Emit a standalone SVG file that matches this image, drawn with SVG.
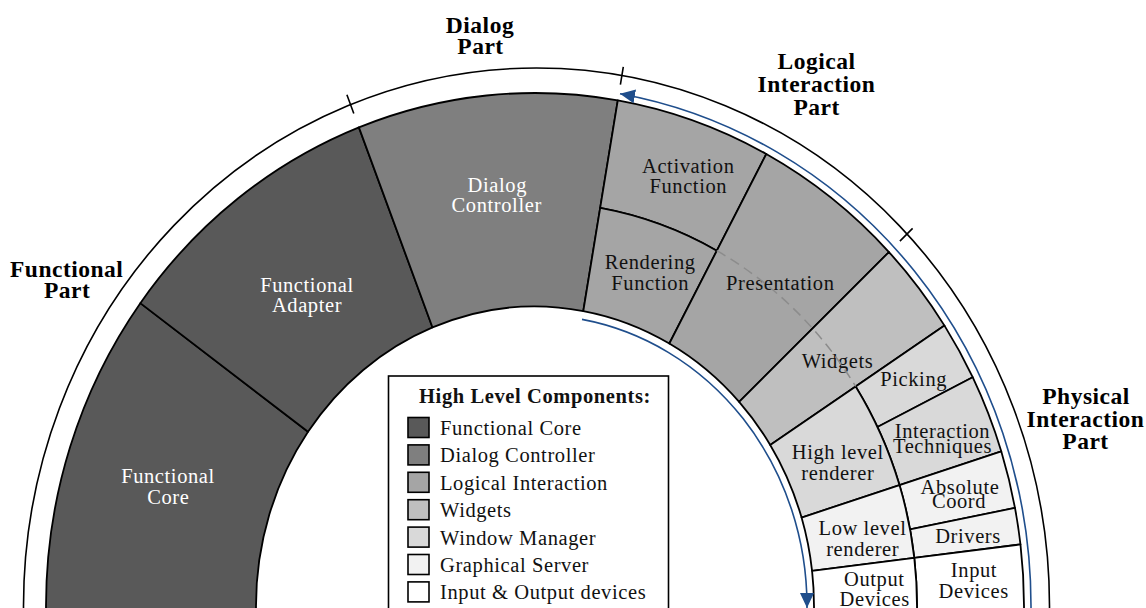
<svg xmlns="http://www.w3.org/2000/svg" width="1146" height="608" viewBox="0 0 1146 608">
<defs>
<marker id="ah" markerUnits="userSpaceOnUse" markerWidth="16" markerHeight="14" refX="15" refY="7" orient="auto"><path d="M0,0 L15,7 L0,14 Z" fill="#1f4e8c"/></marker>
</defs>
<style>
.seg{stroke:#000;stroke-width:1.8;stroke-linejoin:round}
.t{font-family:"Liberation Serif","Times New Roman",serif;font-size:20.5px;letter-spacing:0.6px;text-anchor:middle;fill:#111}
.w{fill:#fff}
.p{font-family:"Liberation Serif","Times New Roman",serif;font-size:23.5px;font-weight:bold;letter-spacing:0.5px;text-anchor:middle;fill:#000}
.lg{font-family:"Liberation Serif","Times New Roman",serif;font-size:20.5px;letter-spacing:0.6px;fill:#111}
.sw{stroke:#000;stroke-width:1.6}
.blue{fill:none;stroke:#1f4e8c;stroke-width:1.6}
.frame{fill:none;stroke:#000;stroke-width:1.6}
</style>
<rect width="1146" height="608" fill="#fff"/>

<g id="frame">
<path class="frame" d="M23.5,615 L23.5,606 A513 538 0 0 1 1049.5,606 L1049.5,615"/>
<path class="frame" d="M353.8,113.5 L346.9,94.7 M620.4,84.6 L623.3,66.9 M899.9,241.1 L912.6,228.4"/>
</g>

<g id="functional-core">
<path class="seg" fill="#595959" d="M46,615 L46,606 A489 513 0 0 1 140.31,303.14 L308.02,431.83 A279 299.5 0 0 0 256,606 L256,615 Z"/>
<text class="t w" x="168" y="483.3">Functional</text>
<text class="t w" x="168.3" y="504">Core</text>
</g>
<g id="functional-adapter">
<path class="seg" fill="#595959" d="M140.31,303.14 A489 513 0 0 1 358.91,127.41 L432.51,327.44 A279 299.5 0 0 0 308.02,431.83 Z"/>
<text class="t w" x="307" y="291.7">Functional</text>
<text class="t w" x="307" y="311.7">Adapter</text>
</g>
<g id="dialog-controller">
<path class="seg" fill="#7f7f7f" d="M358.91,127.41 A489 513 0 0 1 617.79,100.40 L583.30,311.02 A279 299.5 0 0 0 432.51,327.44 Z"/>
<text class="t w" x="497.3" y="192.3">Dialog</text>
<text class="t w" x="496.7" y="212.3">Controller</text>
</g>
<g id="activation-function">
<path class="seg" fill="#a5a5a5" d="M617.79,100.40 A489 513 0 0 1 766.29,154.01 L716.82,250.70 A382 404 0 0 0 600.19,207.92 Z"/>
<text class="t" x="688.3" y="172.7">Activation</text>
<text class="t" x="688.3" y="193.3">Function</text>
</g>
<g id="rendering-function">
<path class="seg" fill="#a5a5a5" d="M600.19,207.92 A382 404 0 0 1 716.82,250.70 L669.33,343.50 A279 299.5 0 0 0 583.30,311.02 Z"/>
<text class="t" x="650.2" y="269.3">Rendering</text>
<text class="t" x="650.2" y="290">Function</text>
</g>
<g id="presentation">
<path class="seg" fill="#a5a5a5" d="M766.29,154.01 A489 513 0 0 1 888.96,252.04 L739.15,401.85 A279 299.5 0 0 0 669.33,343.50 Z"/>
<text class="t" x="780.3" y="290">Presentation</text>
</g>
<g id="widgets">
<path class="seg" fill="#bfbfbf" d="M888.96,252.04 A489 513 0 0 1 944.49,325.61 L770.22,444.94 A279 299.5 0 0 0 739.15,401.85 Z"/>
<text class="t" x="837.5" y="368.3">Widgets</text>
</g>
<g id="picking">
<path class="seg" fill="#d9d9d9" d="M944.49,325.61 A489 513 0 0 1 972.67,377.19 L877.45,426.97 A382 404 0 0 0 855.66,386.43 Z"/>
<text class="t" x="913.7" y="386">Picking</text>
</g>
<g id="interaction-techniques">
<path class="seg" fill="#d9d9d9" d="M972.67,377.19 A489 513 0 0 1 1001.25,451.35 L899.49,485.10 A382 404 0 0 0 877.45,426.97 Z"/>
<text class="t" x="942.5" y="438.3">Interaction</text>
<text class="t" x="942.5" y="452.7">Techniques</text>
</g>
<g id="high-level-renderer">
<path class="seg" fill="#d9d9d9" d="M855.66,386.43 A382 404 0 0 1 899.49,485.10 L801.57,517.58 A279 299.5 0 0 0 770.22,444.94 Z"/>
<text class="t" x="837.8" y="459.3">High level</text>
<text class="t" x="837.8" y="480">renderer</text>
</g>
<g id="absolute-coord">
<path class="seg" fill="#f2f2f2" d="M1001.25,451.35 A489 513 0 0 1 1014.98,507.91 L910.06,529.35 A382 404 0 0 0 899.49,485.10 Z"/>
<text class="t" x="960" y="494">Absolute</text>
<text class="t" x="959" y="508.3">Coord</text>
</g>
<g id="drivers">
<path class="seg" fill="#f2f2f2" d="M1014.98,507.91 A489 513 0 0 1 1020.46,544.42 L914.28,557.89 A382 404 0 0 0 910.06,529.35 Z"/>
<text class="t" x="968" y="542.7">Drivers</text>
</g>
<g id="low-level-renderer">
<path class="seg" fill="#f2f2f2" d="M899.49,485.10 A382 404 0 0 1 914.28,557.89 L812.07,570.85 A279 299.5 0 0 0 801.57,517.58 Z"/>
<text class="t" x="862.5" y="535">Low level</text>
<text class="t" x="862.7" y="556">renderer</text>
</g>
<g id="input-devices">
<path class="seg" fill="#fff" d="M1020.46,544.42 A489 513 0 0 1 1024,606 L1024,615 L917,615 L917,606 A382 404 0 0 0 914.28,557.89 Z"/>
<text class="t" x="974" y="577.3">Input</text>
<text class="t" x="973.7" y="597.7">Devices</text>
</g>
<g id="output-devices">
<path class="seg" fill="#fff" d="M914.28,557.89 A382 404 0 0 1 917,606 L917,615 L814,615 L814,606 A279 299.5 0 0 0 812.07,570.85 Z"/>
<text class="t" x="874.3" y="586">Output</text>
<text class="t" x="874.7" y="606">Devices</text>
</g>

<g id="connectors">
<path d="M716.82,250.70 A382 404 0 0 1 855.66,386.43" fill="none" stroke="#8c8c8c" stroke-width="1.5" stroke-dasharray="10 6"/>
<path class="blue" marker-end="url(#ah)" d="M1031,615 L1031,606 A496 520 0 0 0 620,93.7"/>
<path class="blue" marker-end="url(#ah)" d="M582,319.4 A272 291 0 0 1 807,606 L807,608"/>
</g>

<g id="part-labels">
<text class="p" x="480" y="33.3">Dialog</text>
<text class="p" x="480.5" y="54.3">Part</text>
<text class="p" x="66.7" y="276.7">Functional</text>
<text class="p" x="67.2" y="298.3">Part</text>
<text class="p" x="816.5" y="69">Logical</text>
<text class="p" x="816.5" y="91.7">Interaction</text>
<text class="p" x="816.7" y="115">Part</text>
<text class="p" x="1086" y="404">Physical</text>
<text class="p" x="1085.5" y="426.7">Interaction</text>
<text class="p" x="1085.5" y="449">Part</text>
</g>

<g id="legend">
<rect x="388.5" y="376" width="280" height="250" fill="#fff" stroke="#000" stroke-width="1.6"/>
<text class="lg" x="535" y="403" text-anchor="middle" font-weight="bold" letter-spacing="0.8">High Level Components:</text>
<rect class="sw" x="408" y="417.5" width="21" height="20" fill="#595959"/>
<rect class="sw" x="408" y="444.9" width="21" height="20" fill="#7f7f7f"/>
<rect class="sw" x="408" y="472.3" width="21" height="20" fill="#a5a5a5"/>
<rect class="sw" x="408" y="499.7" width="21" height="20" fill="#bfbfbf"/>
<rect class="sw" x="408" y="527.1" width="21" height="20" fill="#d9d9d9"/>
<rect class="sw" x="408" y="554.5" width="21" height="20" fill="#f2f2f2"/>
<rect class="sw" x="408" y="581.9" width="21" height="20" fill="#fff"/>
<text class="lg" x="440" y="435">Functional Core</text>
<text class="lg" x="440" y="462.4">Dialog Controller</text>
<text class="lg" x="440" y="489.8">Logical Interaction</text>
<text class="lg" x="440" y="517.2">Widgets</text>
<text class="lg" x="440" y="544.6">Window Manager</text>
<text class="lg" x="440" y="572">Graphical Server</text>
<text class="lg" x="440" y="599.4">Input &amp; Output devices</text>
</g>
</svg>
